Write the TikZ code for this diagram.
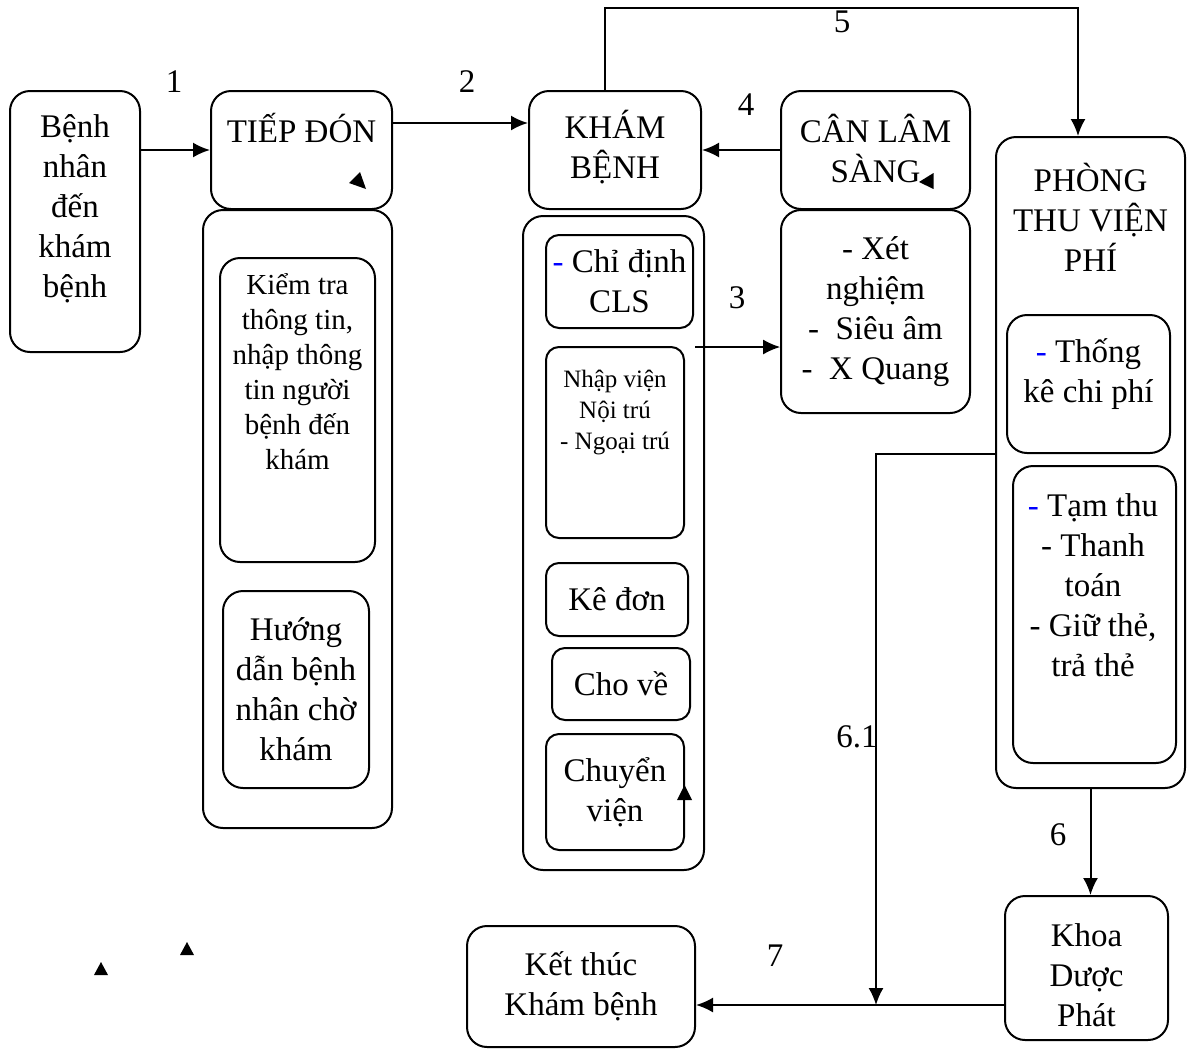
\documentclass[tikz,border=0pt]{standalone}
\usepackage{fontspec}
\setmainfont{Liberation Serif}
\usetikzlibrary{arrows.meta}
\usetikzlibrary{positioning}

\tikzset{
  box/.style={draw, line width=2pt, rounded corners=20pt, inner sep=0pt, align=center},
  sbox/.style={box, rounded corners=13pt},
  txt/.style={inner sep=0pt, align=center},
  big/.style={font=\fontsize{33}{40}\selectfont},
  mid/.style={font=\fontsize{29}{35}\selectfont},
  small/.style={font=\fontsize{25}{31}\selectfont},
  flow/.style={line width=2pt, -{Latex[length=17pt,width=15pt]}},
  num/.style={inner sep=0pt, font=\fontsize{33}{40}\selectfont},
}
\newcommand{\bdash}{\textcolor{blue}{-}}

\begin{document}
\begin{tikzpicture}[x=1pt,y=-1pt]
\useasboundingbox (0,0) rectangle (1188,1050);

% left column
\node[box, minimum width=130pt, minimum height=261pt] (benh) at (75,221.5) {};
\node[txt, big] (benh-t) at (75,209) {Bệnh\\nhân\\đến\\khám\\bệnh};

\node[box, minimum width=181pt, minimum height=118pt] (tiep) at (301.5,150) {};
\node[txt, big] (tiep-t) at (301.5,128) {TIẾP ĐÓN};
\node[box, minimum width=189pt, minimum height=618pt] (tiepc) at (297.5,519) {};
\node[box, minimum width=155pt, minimum height=304pt] (kiem) at (297.5,410) {};
\node[txt, mid] (kiem-t) at (297.5,372) {Kiểm tra\\thông tin,\\nhập thông\\tin người\\bệnh đến\\khám};
\node[box, minimum width=146pt, minimum height=197pt, big] (huong) at (296,689.5) {Hướng\\dẫn bệnh\\nhân chờ\\khám};

% kham benh column
\node[box, minimum width=172pt, minimum height=118pt] (kham) at (615,150) {};
\node[txt, big] (kham-t) at (615,147) {KHÁM\\BỆNH};
\node[box, minimum width=181pt, minimum height=654pt] (khamc) at (613.5,543) {};
\node[sbox, minimum width=147pt, minimum height=93pt, big] (chidinh) at (619.5,281.5) {\bdash{} Chỉ định\\CLS};
\node[sbox, minimum width=138pt, minimum height=191pt] (nhap) at (615,442.5) {};
\node[txt, small] (nhap-t) at (615,412) {Nhập viện\\Nội trú\\- Ngoại trú};
\node[sbox, minimum width=142pt, minimum height=73pt, big] (kedon) at (617,599.5) {Kê đơn};
\node[sbox, minimum width=138pt, minimum height=72pt, big] (chove) at (621,684) {Cho về};
\node[sbox, minimum width=138pt, minimum height=116pt, big] (chuyen) at (615,792) {Chuyển\\viện};

% can lam sang
\node[box, minimum width=189pt, minimum height=118pt] (cls) at (875.5,150) {};
\node[txt, big] (cls-t) at (875.5,148) {CÂN LÂM\\SÀNG};
\node[box, minimum width=189pt, minimum height=203pt, big] (clsc) at (875.5,311.5) {- Xét\\nghiệm\\-~~Siêu âm\\-~~X Quang};

% vien phi
\node[box, minimum width=189pt, minimum height=651pt] (phong) at (1090.5,462.5) {};
\node[txt, big] (phong-t) at (1090.5,217) {PHÒNG\\THU VIỆN\\PHÍ};
\node[box, minimum width=163pt, minimum height=138pt] (thong) at (1088.5,384) {};
\node[txt, big] (thong-t) at (1088.5,374) {\bdash{} Thống\\kê chi phí};
\node[box, minimum width=163pt, minimum height=297pt] (tam) at (1094.5,614.5) {};
\node[txt, big] (tam-t) at (1093,585) {\bdash{} Tạm thu\\- Thanh\\toán\\- Giữ thẻ,\\trả thẻ};

\node[box, minimum width=163pt, minimum height=144pt] (khoa) at (1086.5,968) {};
\node[txt, big] (khoa-t) at (1086.5,975) {Khoa\\Dược\\Phát};
\node[box, minimum width=228pt, minimum height=121pt, big] (ket) at (581,986.5) {Kết thúc\\Khám bệnh};

% step numbers
\node[num] (l1) at (174,82) {1};
\node[num] (l2) at (467,82) {2};
\node[num] (l3) at (737,298) {3};
\node[num] (l4) at (746,105) {4};
\node[num] (l5) at (842,22) {5};
\node[num] (l6) at (1058,835) {6};
\node[num] (l61) at (857,737) {6.1};
\node[num] (l7) at (775,956) {7};

% connectors
\coordinate (c3) at (695,347);
\coordinate (p5) at (1078,8);
\coordinate (j7) at (876,1005);

\draw[flow] (benh.east |- tiep.west) -- (tiep.west);
\draw[flow] ([yshift=27pt]tiep.east) -- ([yshift=27pt]kham.west);
\draw[flow, line width=1.2pt] (c3) -- (c3 -| clsc.west);
\draw[flow] (cls.west) -- (kham.east);
\draw[flow] ([xshift=-10pt]kham.north) |- (p5) -- (p5 |- phong.north);
\draw[flow] (phong.south) -- (phong.south |- khoa.north);
\draw[flow, line width=1.7pt] (phong.west |- thong.south) -| (j7);
\draw[flow] (j7 -| khoa.west) -- (j7 -| ket.east);

% stray tips
\fill (360,172) -- (349,183) -- (366,189) -- cycle;
\fill (933.5,173) -- (933.5,189) -- (919,182) -- cycle;
\fill (677,800) -- (692,800) -- (684.5,785) -- cycle;
\fill (94,975) -- (108,975) -- (101,962) -- cycle;
\fill (180,955) -- (194,955) -- (187,942) -- cycle;
\end{tikzpicture}
\end{document}
